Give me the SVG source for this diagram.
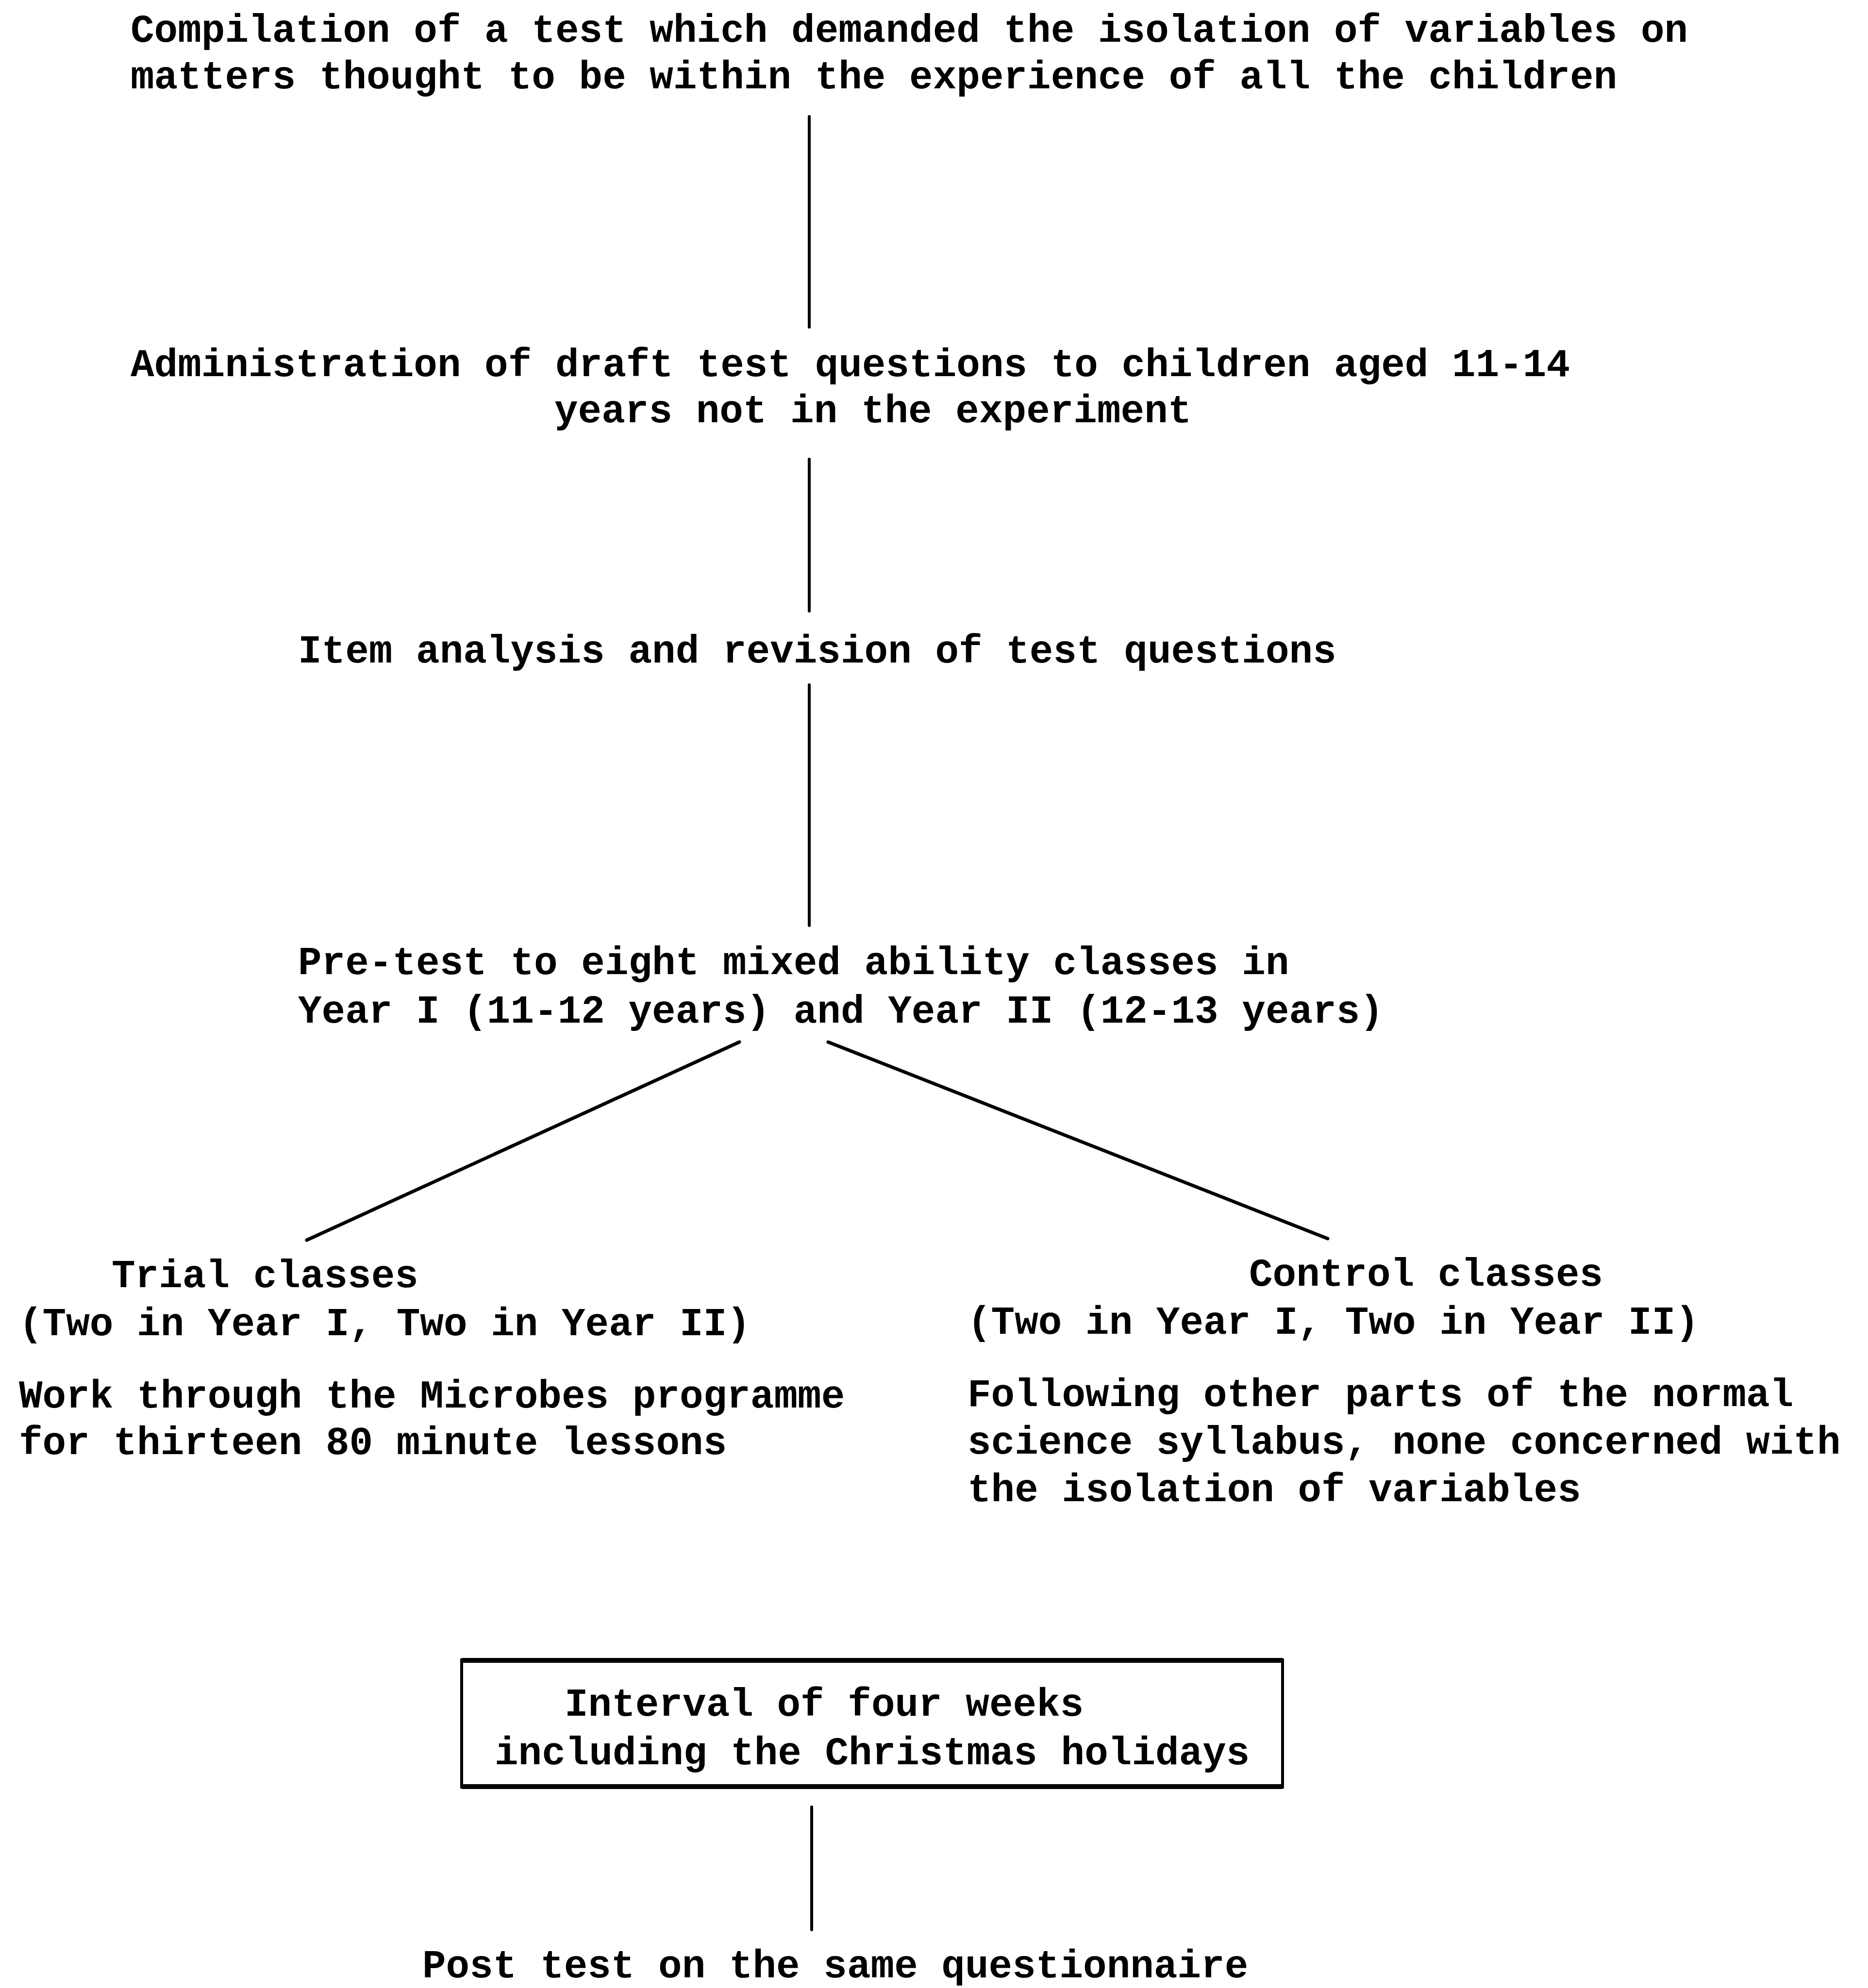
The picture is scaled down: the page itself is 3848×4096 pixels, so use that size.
<svg xmlns="http://www.w3.org/2000/svg" width="3848" height="4096" viewBox="0 0 3848 4096">
<style>
text { font-family: "Liberation Mono", "DejaVu Sans Mono", monospace; font-weight: bold; font-size: 81px; fill: #000; }
.c { stroke: #000; stroke-width: 6; fill: none; stroke-linecap: round; }
.d { stroke: #000; stroke-width: 7; fill: none; stroke-linecap: round; }
</style>
<rect width="3848" height="4096" fill="#fff"/>
<g id="connectors">
  <line class="c" x1="1667" y1="240" x2="1667" y2="674"/>
  <line class="c" x1="1667" y1="946" x2="1667" y2="1259"/>
  <line class="c" x1="1667" y1="1411" x2="1667" y2="1907"/>
  <line class="d" x1="1523" y1="2147" x2="632" y2="2555"/>
  <line class="d" x1="1706" y1="2147" x2="2735" y2="2552"/>
  <line class="c" x1="1672" y1="3723" x2="1672" y2="3976"/>
</g>
<g id="node-compilation">
  <text x="269" y="86">Compilation of a test which demanded the isolation of variables on</text>
  <text x="269" y="182">matters thought to be within the experience of all the children</text>
</g>
<g id="node-administration">
  <text x="269" y="775">Administration of draft test questions to children aged 11-14</text>
  <text x="1142" y="870">years not in the experiment</text>
</g>
<g id="node-item-analysis">
  <text x="614" y="1365">Item analysis and revision of test questions</text>
</g>
<g id="node-pretest">
  <text x="614" y="2007">Pre-test to eight mixed ability classes in</text>
  <text x="614" y="2107">Year I (11-12 years) and Year II (12-13 years)</text>
</g>
<g id="node-trial">
  <text x="230" y="2652">Trial classes</text>
  <text x="39" y="2751">(Two in Year I, Two in Year II)</text>
  <text x="39" y="2900">Work through the Microbes programme</text>
  <text x="39" y="2996">for thirteen 80 minute lessons</text>
</g>
<g id="node-control">
  <text x="2573" y="2649">Control classes</text>
  <text x="1993" y="2748">(Two in Year I, Two in Year II)</text>
  <text x="1993" y="2897">Following other parts of the normal</text>
  <text x="1993" y="2995">science syllabus, none concerned with</text>
  <text x="1993" y="3093">the isolation of variables</text>
</g>
<g id="node-interval">
  <rect x="951" y="3420" width="1691" height="262" fill="none" stroke="#000" stroke-width="6"/>
  <line x1="951" y1="3421" x2="2642" y2="3421" stroke="#000" stroke-width="10"/>
  <line x1="951" y1="3681" x2="2642" y2="3681" stroke="#000" stroke-width="10"/>
  <text x="1163" y="3535">Interval of four weeks</text>
  <text x="1019" y="3635">including the Christmas holidays</text>
</g>
<g id="node-posttest">
  <text x="870" y="4074">Post test on the same questionnaire</text>
</g>
</svg>
